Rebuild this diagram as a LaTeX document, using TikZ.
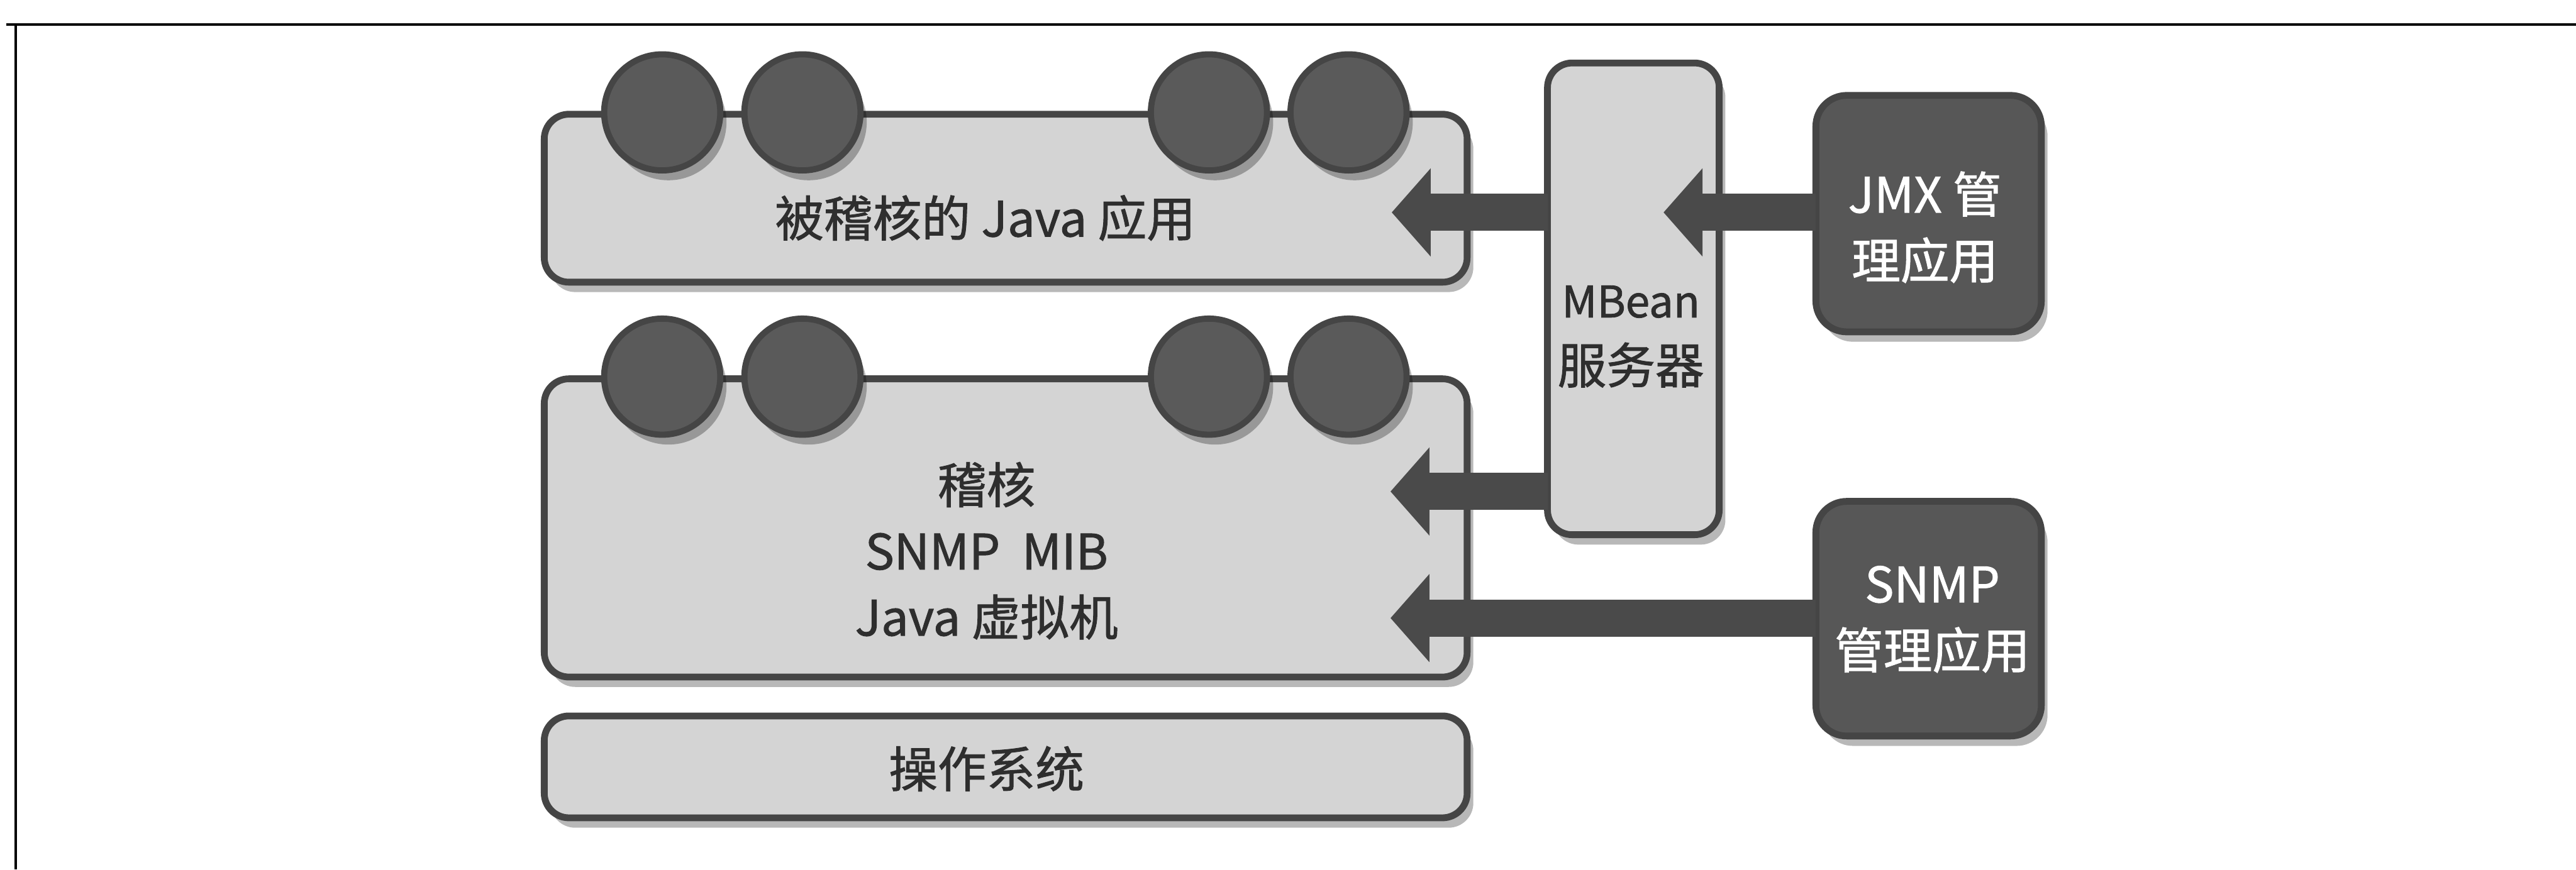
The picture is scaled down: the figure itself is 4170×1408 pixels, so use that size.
\documentclass[tikz,border=0pt]{standalone}
\usepackage{fontspec}
\setmainfont{Noto Sans CJK SC}[FakeBold=1.2]
\usetikzlibrary{arrows.meta,shadows}
\definecolor{lightfill}{HTML}{D4D4D4}
\definecolor{edgegray}{HTML}{454545}
\definecolor{beadfill}{HTML}{5A5A5A}
\definecolor{darkfill}{HTML}{575757}
\definecolor{arrowgray}{HTML}{4A4A4A}
\definecolor{textgray}{HTML}{2E2E2E}
\begin{document}
\begin{tikzpicture}[x=0.1mm,y=-0.1mm,
  shade/.style={drop shadow={shadow xshift=1.0mm,shadow yshift=-1.6mm,opacity=0.28,fill=black}},
  lightbox/.style={draw=edgegray,fill=lightfill,line width=1.1mm,rounded corners=4mm,inner sep=0pt,outer sep=0pt,shade},
  darkbox/.style={draw=edgegray,fill=darkfill,line width=1.1mm,rounded corners=5mm,inner sep=0pt,outer sep=0pt,shade},
  bead/.style={circle,draw=edgegray,fill=beadfill,line width=1mm,minimum size=18.8mm,inner sep=0pt,shade},
  lighttext/.style={text=textgray,font=\fontsize{22.5pt}{30.5pt}\selectfont,align=center,inner sep=0pt},
  darktext/.style={text=white,font=\fontsize{22.5pt}{30.5pt}\selectfont,align=center,inner sep=0pt},
  arr/.style={draw=arrowgray,line width=6mm,-{Triangle[length=6.3mm,width=14.3mm,line width=0pt]}}
]
\fill[white] (0,0) rectangle (4170,1408);
\useasboundingbox (0,0) rectangle (4170,1408);
% frame
\draw[line width=0.45mm] (10,40) -- (4170,40);
\draw[line width=0.4mm] (25,40) -- (25,1408);

% boxes
\node[lightbox,minimum width=149.4mm,minimum height=27.2mm] (app) at (1628,321) {};
\node[lightbox,minimum width=149.4mm,minimum height=48.3mm] (jvm) at (1628,855) {};
\node[lightbox,minimum width=149.4mm,minimum height=16.5mm] (os) at (1628,1242) {};
\node[lightbox,minimum width=27.8mm,minimum height=76.4mm] (mbean) at (2644,484) {};
\node[darkbox,minimum width=36.5mm,minimum height=38.3mm] (jmx) at (3122,346) {};
\node[darkbox,minimum width=36.5mm,minimum height=38.0mm] (snmp) at (3122,1002) {};

% beads
\node[bead] (a1) at (1072,182) {};
\node[bead] (a2) at (1299,182) {};
\node[bead] (a3) at (1957,182) {};
\node[bead] (a4) at (2183,182) {};
\node[bead] (b1) at (1072,610) {};
\node[bead] (b2) at (1299,610) {};
\node[bead] (b3) at (1957,610) {};
\node[bead] (b4) at (2183,610) {};

% texts
\node[lighttext] (apptxt) at (1595,353) {被稽核的 Java 应用};
\node[lighttext] (jvmtxt) at (1597,892) {稽核\\SNMP\ \ MIB\\Java 虚拟机};
\node[lighttext] (ostxt) at (1597,1245) {操作系统};
\node[lighttext] (mbtxt) at (2640,545) {{\fontsize{20pt}{30.5pt}\selectfont MBean}\\服务器};
\node[darktext] (jmxtxt) at (3116,368) {JMX 管\\理应用};
\node[darktext] (snmptxt) at (3128,1003) {SNMP\\管理应用};

% arrows
\coordinate (t1) at (2253,344);
\coordinate (t2) at (2693,344);
\coordinate (t3) at (2251,796);
\coordinate (t4) at (2251,1001);
\draw[arr] (mbean.west |- t1) -- (t1);
\draw[arr] (jmx.west |- t2) -- (t2);
\draw[arr] (mbean.west |- t3) -- (t3);
\draw[arr] (snmp.west |- t4) -- (t4);
\end{tikzpicture}
\end{document}
